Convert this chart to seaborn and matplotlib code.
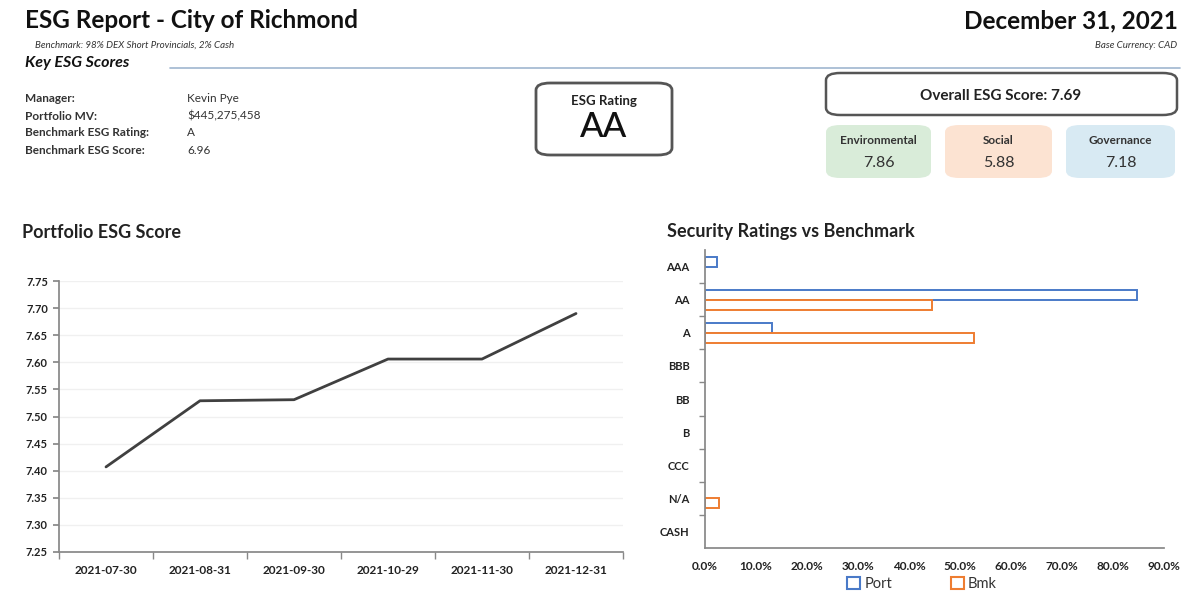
import matplotlib
matplotlib.use("Agg")
import matplotlib.pyplot as plt
from matplotlib.patches import FancyBboxPatch
from matplotlib.ticker import FuncFormatter, FixedLocator
import numpy as np
import pandas as pd
import seaborn as sns

# data
dates = ["2021-07-30", "2021-08-31", "2021-09-30", "2021-10-29", "2021-11-30", "2021-12-31"]
esg_scores = [7.407, 7.529, 7.531, 7.606, 7.606, 7.690]

ratings = ["AAA", "AA", "A", "BBB", "BB", "B", "CCC", "N/A", "CASH"]
port_weights = [0.023, 0.847, 0.131, 0.0, 0.0, 0.0, 0.0, 0.0, 0.0]
bmk_weights = [0.0, 0.445, 0.527, 0.0, 0.0, 0.0, 0.0, 0.027, 0.0]

info_labels = ["Manager:", "Portfolio MV:", "Benchmark ESG Rating:", "Benchmark ESG Score:"]
info_values = ["Kevin Pye", "$445,275,458", "A", "6.96"]

pillar_names = ["Environmental", "Social", "Governance"]
pillar_scores = [7.86, 5.88, 7.18]
pillar_colors = ["#d9ecd9", "#fce3d2", "#d8eaf3"]

W, H = 1193, 594

sns.set_theme(style="white")
plt.rcParams["font.family"] = ["Lato", "DejaVu Sans"]

fig = plt.figure(figsize=(W / 100, H / 100), dpi=100)


def fx(x):
    return x / W


def fy(y):
    return 1 - y / H


def txt(x, y, s, **kw):
    fig.text(fx(x), fy(y), s, va="center", **kw)


def box(x0, y0, x1, y1, **kw):
    p = FancyBboxPatch((fx(x0), fy(y1)), fx(x1 - x0), (y1 - y0) / H,
                       boxstyle="round,pad=0,rounding_size=0.012",
                       transform=fig.transFigure, **kw)
    fig.patches.append(p)


# header
txt(25, 21, "ESG Report - City of Richmond", fontsize=17.5, fontweight="bold", color="#111111")
txt(35, 45, "Benchmark: 98% DEX Short Provincials, 2% Cash", fontsize=7, style="italic", color="#333333")
txt(25, 63, "Key ESG Scores", fontsize=11.5, fontweight="bold", style="italic", color="#111111")
fig.add_artist(plt.Line2D([fx(170), fx(1180)], [fy(68), fy(68)], color="#9fb6cf", lw=1.2))
txt(1178, 21, "December 31, 2021", fontsize=17.5, fontweight="bold", color="#111111", ha="right")
txt(1177, 45, "Base Currency: CAD", fontsize=7, style="italic", color="#333333", ha="right")

for i, (lab, val) in enumerate(zip(info_labels, info_values)):
    y = 99 + i * 17
    txt(25, y, lab, fontsize=8.5, fontweight="bold", color="#333333")
    txt(187, y, val, fontsize=8.5, color="#333333")

# rating box
box(536, 83, 672, 155, facecolor="white", edgecolor="#555555", lw=2)
txt(604, 101, "ESG Rating", fontsize=9.5, fontweight="bold", color="#222222", ha="center")
txt(604, 127, "AA", fontsize=25, fontweight="medium", color="#111111", ha="center")

# overall score box
box(826, 73, 1177, 115, facecolor="white", edgecolor="#555555", lw=1.8)
txt(1001, 96, "Overall ESG Score: 7.69", fontsize=11, fontweight="bold", color="#222222", ha="center")

pillar_x = [(826, 931), (945, 1052), (1066, 1175)]
for (x0, x1), name, score, col in zip(pillar_x, pillar_names, pillar_scores, pillar_colors):
    box(x0, 125, x1, 178, facecolor=col, edgecolor="none")
    txt((x0 + x1) / 2, 141, name, fontsize=8.5, fontweight="bold", color="#333333", ha="center")
    txt((x0 + x1) / 2, 163, f"{score:.2f}", fontsize=11.5, color="#333333", ha="center")

# line chart
txt(22, 232, "Portfolio ESG Score", fontsize=13, fontweight="bold", color="#222222")
ax1 = fig.add_axes([fx(59), fy(552), fx(623 - 59), (552 - 281) / H])
df_line = pd.DataFrame({"date": dates, "score": esg_scores})
sns.lineplot(data=df_line, x="date", y="score", ax=ax1, color="#404040", lw=2)
ax1.set_xlim(-0.5, len(dates) - 0.5)
ax1.set_ylim(7.25, 7.75)
ax1.set_yticks(np.arange(7.25, 7.751, 0.05))
ax1.yaxis.set_major_formatter(FuncFormatter(lambda v, p: f"{v:.2f}"))
ax1.grid(axis="y", color="#f0f0f0", lw=1)
ax1.set_xlabel("")
ax1.set_ylabel("")
ax1.xaxis.set_minor_locator(FixedLocator(np.arange(-0.5, len(dates), 1.0)))
ax1.tick_params(axis="x", which="major", length=0, pad=9, labelsize=8.5)
ax1.tick_params(axis="x", which="minor", length=5, color="#888888", bottom=True)
ax1.tick_params(axis="y", length=4, color="#888888", left=True, labelsize=8, pad=4)
for lab in ax1.get_xticklabels() + ax1.get_yticklabels():
    lab.set_fontweight("bold")
    lab.set_color("#222222")
for s in ["top", "right"]:
    ax1.spines[s].set_visible(False)
for s in ["left", "bottom"]:
    ax1.spines[s].set_color("#888888")

# bar chart
txt(667, 232, "Security Ratings vs Benchmark", fontsize=13, fontweight="bold", color="#222222")
ax2 = fig.add_axes([fx(705), fy(548), fx(1164 - 705), (548 - 250) / H])
df_bar = pd.DataFrame({
    "rating": ratings * 2,
    "weight": port_weights + bmk_weights,
    "series": ["Port"] * len(ratings) + ["Bmk"] * len(ratings),
})
sns.barplot(data=df_bar, y="rating", x="weight", hue="series", order=ratings,
            hue_order=["Port", "Bmk"], orient="h", width=0.6, ax=ax2,
            palette={"Port": "white", "Bmk": "white"}, legend=False)
edge_cols = {"Port": "#4a7ac8", "Bmk": "#ee7d31"}
for cont, name in zip(ax2.containers, ["Port", "Bmk"]):
    for bar in cont:
        bar.set_edgecolor(edge_cols[name])
        bar.set_linewidth(1.4)
        if bar.get_width() == 0:
            bar.set_visible(False)
ax2.set_xlim(0, 0.9)
ax2.set_xticks(np.arange(0, 0.91, 0.1))
ax2.xaxis.set_major_formatter(FuncFormatter(lambda v, p: f"{v * 100:.1f}%"))
ax2.set_xlabel("")
ax2.set_ylabel("")
ax2.yaxis.set_minor_locator(FixedLocator(np.arange(0.5, len(ratings) - 1, 1.0)))
ax2.tick_params(axis="y", which="major", length=0, pad=11, labelsize=8)
ax2.tick_params(axis="y", which="minor", length=4, color="#888888", left=True)
ax2.tick_params(axis="x", length=0, pad=9, labelsize=8.5)
for lab in ax2.get_xticklabels() + ax2.get_yticklabels():
    lab.set_fontweight("bold")
    lab.set_color("#222222")
for s in ["top", "right"]:
    ax2.spines[s].set_visible(False)
for s in ["left", "bottom"]:
    ax2.spines[s].set_color("#888888")

handles = [plt.Rectangle((0, 0), 1, 1, facecolor="white", edgecolor=edge_cols[n], lw=1.5)
           for n in ["Port", "Bmk"]]
fig.legend(handles, ["Port", "Bmk"], loc="center", bbox_to_anchor=(fx(922), fy(584)),
           ncol=2, frameon=False, fontsize=10.5, handlelength=0.9, handleheight=0.9,
           columnspacing=4, handletextpad=0.3, labelcolor="#333333")

fig.savefig("out.png", dpi=100, facecolor="white")
